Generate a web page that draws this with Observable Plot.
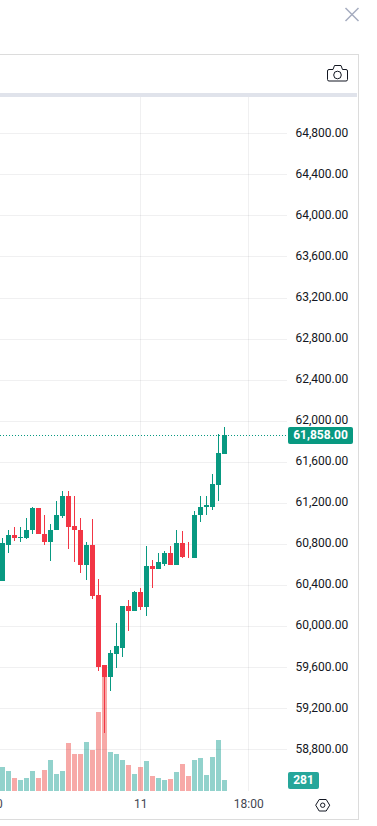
<!DOCTYPE html>
<html>
<head>
<meta charset="utf-8">
<script src="https://cdn.jsdelivr.net/npm/d3@7"></script>
<script src="https://cdn.jsdelivr.net/npm/@observablehq/plot@0.6"></script>
<style>
  html, body { margin: 0; padding: 0; background: #fff; overflow: hidden; }
  #stage { position: relative; width: 377px; height: 826px; overflow: hidden; font-family: Roboto, sans-serif; }
  #stage > svg.layer, #stage > figure { position: absolute; left: 0; top: 0; margin: 0; }
  #panel { position: absolute; left: -2px; top: 54px; width: 359px; height: 764px; border: 1px solid #dcdcdc; box-sizing: content-box; }
  #toolbarRule { position: absolute; left: 0; top: 93px; width: 357px; height: 4px; background: #e0e3eb; }
  .badge { position: absolute; left: 288px; height: 17px; line-height: 17px; text-align: center; color: #fff; font-weight: 700; font-size: 12px; border-radius: 2px; }
  #icons { position: absolute; left: 0; top: 0; pointer-events: none; }
</style>
</head>
<body>
<div id="stage">
  <div id="panel"></div>
  <div id="toolbarRule"></div>
</div>
<script>
const hours = d3.range(38);
const opens  = [60435,60795,60883,60863,60863,60932,61146,60902,60815,60932,61068,61263,60971,60941,60591,60795,60299,59617,59500,59724,59792,60201,60143,60328,60191,60581,60552,60610,60708,60591,60805,60678,60659,61078,61156,61165,61370,61672];
const highs  = [60863,60941,60961,60961,61058,61156,61146,61078,60990,61214,61321,61321,61263,61058,60815,61039,60464,59617,59763,60026,60201,60250,60338,60367,60776,60649,60717,60727,60776,60932,60922,60815,61126,61263,61263,61477,61867,61944];
const lows   = [60435,60708,60825,60815,60844,60893,60893,60786,60639,60932,61058,60756,60620,60513,60445,60260,59568,58955,59364,59588,59695,59948,60143,60153,60094,60367,60552,60581,60591,60591,60659,60659,60659,61010,61087,61136,61214,61672];
const closes = [60805,60883,60863,60873,60941,61146,60893,60815,60941,61078,61263,60961,60932,60591,60795,60289,59607,59500,59734,59802,60201,60143,60328,60191,60581,60552,60620,60708,60591,60805,60669,60669,61087,61165,61175,61380,61682,61858];
const volumes = [647,534,365,281,365,534,365,562,871,450,534,1321,1012,1012,1349,1124,2193,3260,1068,1012,871,703,450,647,815,394,365,309,337,506,731,394,843,900,422,928,1406,281];
const priceTicks = [58800,59200,59600,60000,60400,60800,61200,61600,62000,62400,62800,63200,63600,64000,64400,64800];
const timeTicks = [-2.5, 23, 41];
const timeLabels = ["12:00", "11", "18:00"];
const lastPrice = 61858;
const lastVolume = 281;

const UP = "#089981", DOWN = "#f23645";
const rows = hours.map((h, i) => ({h, open: opens[i], high: highs[i], low: lows[i], close: closes[i], volume: volumes[i], up: closes[i] >= opens[i]}));

const W = 377, H = 826, top_ = 96.5, bottom_ = 35.5, right_ = 90;
const xScale = {domain: [-0.383, 47.45], range: [0, W - right_]};
const common = {width: W, height: H, marginLeft: 0, marginRight: right_, marginTop: top_, marginBottom: bottom_,
  style: {background: "transparent", fontFamily: "Roboto, sans-serif", fontSize: "12px", overflow: "visible"}};

const volumePlot = Plot.plot({
  ...common,
  x: {...xScale, axis: null},
  y: {domain: [0, 19501], axis: null},
  marks: [
    Plot.ruleX(rows, {x: "h", y1: 0, y2: "volume", strokeWidth: 5, shapeRendering: "crispEdges",
      stroke: d => d.up ? "rgba(38,166,154,0.5)" : "rgba(239,83,80,0.5)"})
  ]
});

const pricePlot = Plot.plot({
  ...common,
  x: {...xScale},
  y: {domain: [58399.5, 65158]},
  marks: [
    Plot.gridY(priceTicks, {stroke: "#2a2e39", strokeOpacity: 0.07, shapeRendering: "crispEdges"}),
    Plot.gridX([23, 41], {stroke: "#2a2e39", strokeOpacity: 0.07, shapeRendering: "crispEdges"}),
    Plot.axisY(priceTicks, {anchor: "right", tickSize: 0, tickPadding: 8, dy: -1, label: null, fill: "#131722",
      fontSize: 12, tickFormat: d3.format(",.2f")}),
    Plot.axisX(timeTicks, {anchor: "bottom", tickSize: 0, tickPadding: 8, label: null, fill: "#434651",
      fontSize: 12, tickFormat: d => timeLabels[timeTicks.indexOf(d)]}),
    Plot.ruleY([lastPrice], {stroke: UP, strokeDasharray: "1,2", strokeWidth: 1, shapeRendering: "crispEdges"}),
    Plot.ruleX(rows, {x: "h", y1: "low", y2: "high", strokeWidth: 1, stroke: d => d.up ? UP : DOWN, shapeRendering: "crispEdges"}),
    Plot.ruleX(rows, {x: "h", y1: d => Math.min(d.open, d.close), y2: d => Math.max(d.open, d.close), strokeWidth: 5, stroke: d => d.up ? UP : DOWN, shapeRendering: "crispEdges"})
  ]
});

const stage = document.getElementById("stage");
for (const p of [volumePlot, pricePlot]) { p.classList.add("layer"); stage.appendChild(p); }

function badge(text, y, color, width) {
  const d = document.createElement("div");
  d.className = "badge";
  d.textContent = text;
  d.style.top = Math.round(y - 8.5) + "px";
  d.style.width = width + "px";
  d.style.background = color;
  stage.appendChild(d);
}
badge(d3.format(",.2f")(lastPrice), pricePlot.scale("y").apply(lastPrice), UP, 65);
badge(String(lastVolume), volumePlot.scale("y").apply(lastVolume), "#26a69a", 31);

const ns = "http://www.w3.org/2000/svg";
const icons = document.createElementNS(ns, "svg");
icons.setAttribute("id", "icons");
icons.setAttribute("width", W);
icons.setAttribute("height", H);
icons.innerHTML = `
  <path d="M345.5 8 L358.5 21 M358.5 8 L345.5 21" stroke="#a6adc0" stroke-width="1.5" fill="none"/>
  <path d="M329 69.5 H333 L334.5 65.5 H341 L342.5 69.5 H346 Q347.5 69.5 347.5 71 V79.5 Q347.5 81 346 81 H329 Q327.5 81 327.5 79.5 V71 Q327.5 69.5 329 69.5 Z" stroke="#131722" fill="none"/>
  <circle cx="337.5" cy="75" r="3.8" stroke="#131722" fill="none"/>
  <path d="M315.7 805.2 L319.2 799.5 H326.2 L329.7 805.2 L326.2 811 H319.2 Z" stroke="#131722" fill="none"/>
  <circle cx="322.7" cy="805.2" r="2.2" stroke="#131722" fill="none"/>`;
stage.appendChild(icons);
</script>
</body>
</html>
